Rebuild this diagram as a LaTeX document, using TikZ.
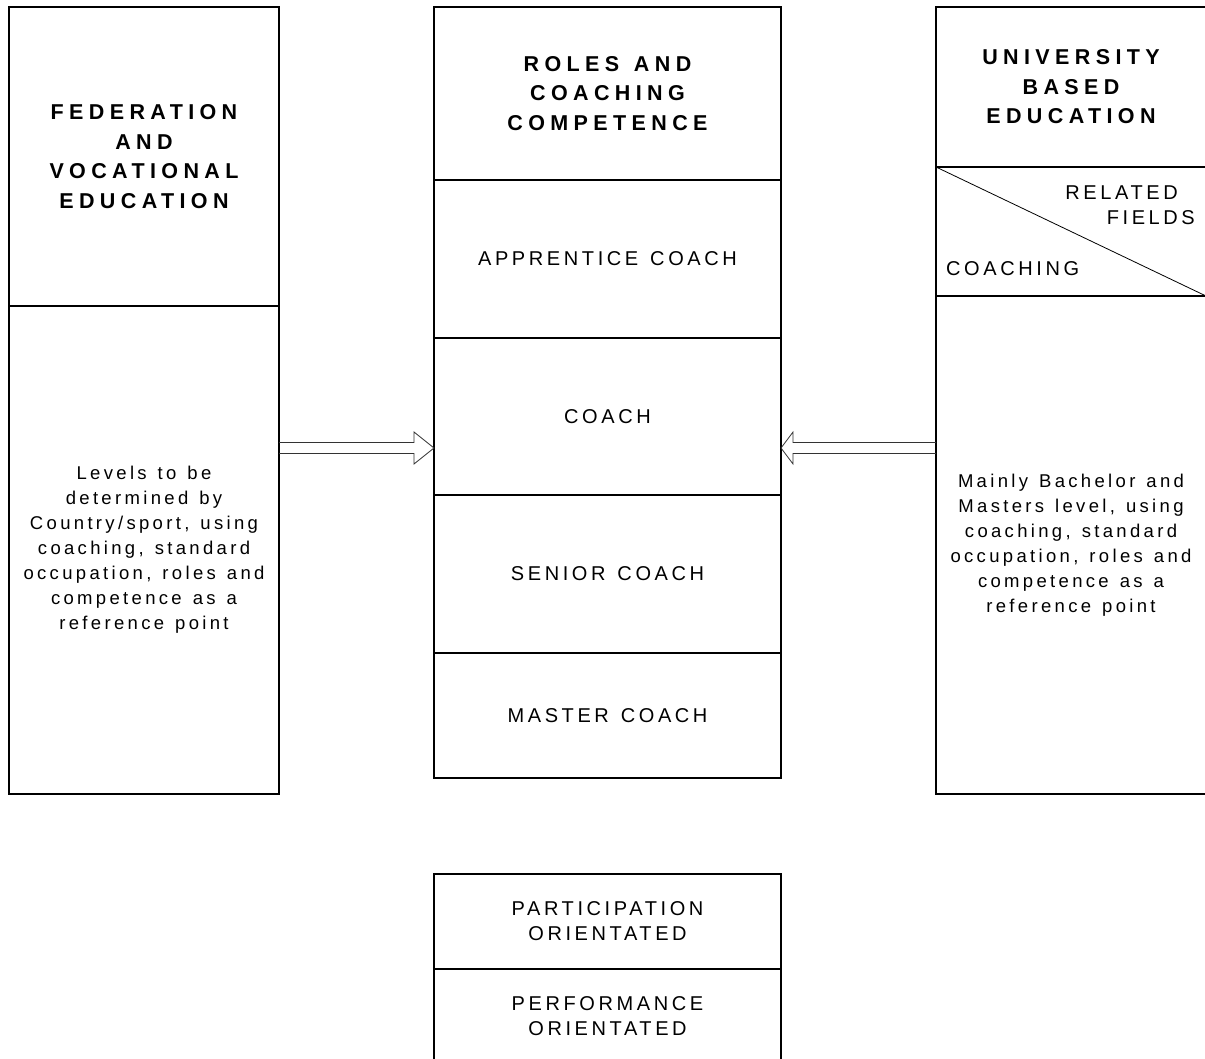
\documentclass[tikz,border=0pt]{standalone}
\usepackage{fontspec}
\setmainfont{Liberation Sans}[LetterSpace=18, WordSpace=1.3]
\newfontfamily\headfont{Liberation Sans}[LetterSpace=25, WordSpace=1.3]
\usetikzlibrary{positioning}

\tikzset{
  cell/.style={draw, line width=1.2pt, outer sep=0pt, inner sep=0pt, align=center,
    minimum width=347pt, font=\fontsize{20}{25}\selectfont},
  head/.style={font=\headfont\bfseries\fontsize{21.5}{29.6}\selectfont},
  body/.style={font=\fontsize{18.5}{25}\selectfont},
  side/.style={minimum width=270pt},
  hollow/.style={draw, line width=0.8pt, black!80}
}

\begin{document}
\begin{tikzpicture}[x=1pt,y=-1pt]
\useasboundingbox (0,0) rectangle (1205,1059);

\node (roles) [cell, head, minimum height=173pt] at (607.5,93.5) {ROLES AND\\COACHING\\COMPETENCE};
\node (apprentice) [cell, minimum height=158pt, below=0pt of roles] {APPRENTICE COACH};
\node (coach) [cell, minimum height=157pt, below=0pt of apprentice] {COACH};
\node (senior) [cell, minimum height=158pt, below=0pt of coach] {SENIOR COACH};
\node (master) [cell, minimum height=125pt, below=0pt of senior] {MASTER COACH};

\node (federation) [cell, side, head, minimum height=299pt] at (144,156.5) {FEDERATION\\AND\\VOCATIONAL\\EDUCATION};
\node (levels) [cell, side, body, minimum height=488pt, below=0pt of federation] {Levels to be\\determined by\\Country/sport, using\\coaching, standard\\occupation, roles and\\competence as a\\reference point};

\node (university) [cell, side, head, minimum height=160pt] at (1071,87) {UNIVERSITY\\BASED\\EDUCATION};
\node (split) [cell, side, minimum height=129pt, below=0pt of university] {};
\node (mainly) [cell, side, body, minimum height=498pt, below=0pt of split] {Mainly Bachelor and\\Masters level, using\\coaching, standard\\occupation, roles and\\competence as a\\reference point};
\draw[line width=0.8pt] (split.north west) -- (split.south east);
\node (related) [below left=19pt and 11pt of split.north east, inner sep=0pt, align=right, font=\fontsize{20}{25}\selectfont] {RELATED\hspace*{17pt}\\FIELDS};
\node (coaching) [above right=20pt and 10pt of split.south west, inner sep=0pt, font=\fontsize{20}{25}\selectfont] {COACHING};

\node (participation) [cell, minimum height=95pt] at (607.5,921.5) {PARTICIPATION\\ORIENTATED};
\node (performance) [cell, minimum height=95pt, below=0pt of participation] {PERFORMANCE\\ORIENTATED};

\coordinate (arrowy) at (0,448);
\draw[hollow] (levels.east |- arrowy) ++(0,-5.5) -- ++(135,0) -- ++(0,-10.5)
  -- (coach.west |- arrowy) -- ++(-20,16) -- ++(0,-10.5) -- ++(-135,0);
\draw[hollow] (mainly.west |- arrowy) ++(0,-5.5) -- ++(-143,0) -- ++(0,-10.5)
  -- (coach.east |- arrowy) -- ++(12,16) -- ++(0,-10.5) -- ++(143,0);
\end{tikzpicture}
\end{document}
